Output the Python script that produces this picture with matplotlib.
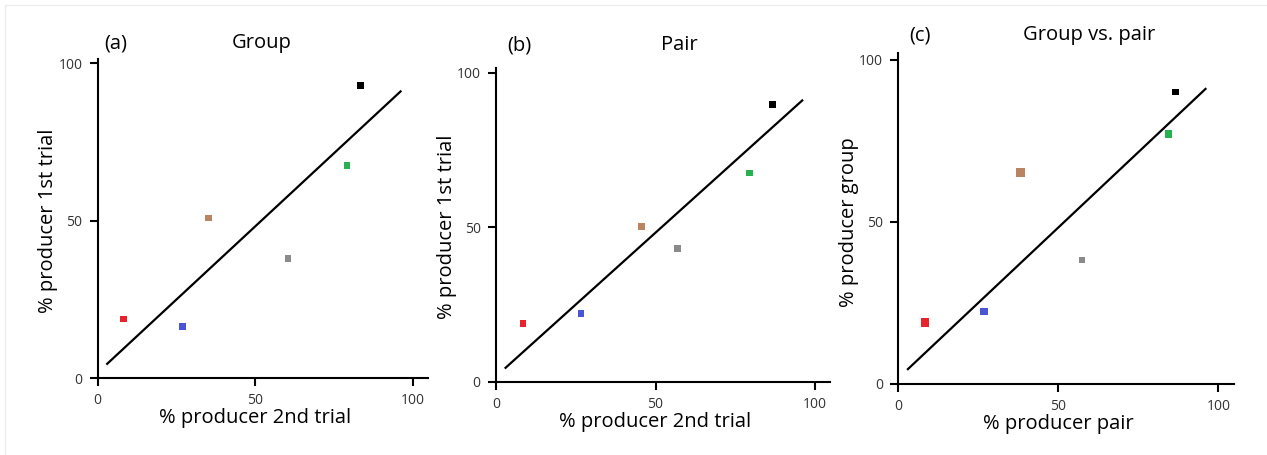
import matplotlib.pyplot as plt
from matplotlib.patches import Rectangle

plt.rcParams['font.family'] = ['Open Sans', 'DejaVu Sans']

colors = ['#e8232b', '#4a55d6', '#b98461', '#8a8a8a', '#27b24f', '#000000']

# panel (a) group: 2nd trial vs 1st trial
group_x = [8.2, 26.8, 35.0, 60.3, 79.0, 83.2]
group_y = [18.7, 16.3, 50.8, 37.9, 67.5, 93.0]

# panel (b) pair: 2nd trial vs 1st trial
pair_x = [8.4, 26.6, 45.5, 56.9, 79.4, 86.7]
pair_y = [18.9, 22.1, 50.2, 43.2, 67.6, 89.8]

# panel (c) pair vs group
gvp_x = [8.3, 26.8, 38.2, 57.3, 84.4, 86.7]
gvp_y = [18.9, 22.2, 65.2, 38.1, 77.1, 90.1]

line_x = [3, 96]
line_y = [4.5, 91]

letters = ['(a)', '(b)', '(c)']
titles = ['Group', 'Pair', 'Group vs. pair']
xlabels = ['% producer 2nd trial', '% producer 2nd trial', '% producer pair']
ylabels = ['% producer 1st trial', '% producer 1st trial', '% producer group']
ticks = [0, 50, 100]

W, H = 1267, 455
fig = plt.figure(figsize=(W / 100, H / 100), dpi=100)
fig.patches.append(Rectangle((5 / W, -0.1), 1.2, 1 - 5 / H + 0.1, transform=fig.transFigure,
                             fill=False, edgecolor='#ececec', linewidth=1))

# axes boxes in pixels: left, bottom, right, top
boxes = [(97.7, 378, 428, 59), (496, 381.7, 830, 68.3), (898.3, 383.7, 1234.3, 53.3)]
limits = [(104.7, 101.3), (104.7, 101.4), (105, 102)]
title_y = [43, 45, 35]
letter_x = [116, 519, 920]
title_x = [262, 679, 1089]
marker_s = [[22, 22, 24, 24, 22, 26], [22, 22, 24, 26, 22, 24], [34, 28, 34, 20, 28, 22]]

data = [(group_x, group_y), (pair_x, pair_y), (gvp_x, gvp_y)]

for i, (xs, ys) in enumerate(data):
    l, b, r, t = boxes[i]
    ax = fig.add_axes([l / W, (H - b) / H, (r - l) / W, (b - t) / H])
    ax.plot(line_x, line_y, color='black', linewidth=1.6)
    ax.scatter(xs, ys, c=colors, marker='s', s=marker_s[i], linewidths=0, zorder=3)
    ax.set_xlim(0, limits[i][0])
    ax.set_ylim(0, limits[i][1])
    ax.set_xticks(ticks)
    ax.set_yticks(ticks)
    for side in ['top', 'right']:
        ax.spines[side].set_visible(False)
    for side in ['left', 'bottom']:
        ax.spines[side].set_linewidth(1.5)
    ax.tick_params(direction='out', length=6, width=1.5, labelsize=10,
                   labelcolor='#333333', pad=5)
    ax.set_xlabel(xlabels[i], fontsize=14.5, labelpad=0)
    ax.set_ylabel(ylabels[i], fontsize=14.5, labelpad=0)
    # labels sit centred on the 50 mark
    ax.xaxis.label.set_x(50 / limits[i][0])
    ax.yaxis.label.set_y(50 / limits[i][1])
    fig.text(letter_x[i] / W, 1 - title_y[i] / H, letters[i], fontsize=14.5,
             ha='center', va='center')
    fig.text(title_x[i] / W, 1 - title_y[i] / H, titles[i], fontsize=14.5,
             ha='center', va='center')

fig.savefig('out.png', dpi=100)
